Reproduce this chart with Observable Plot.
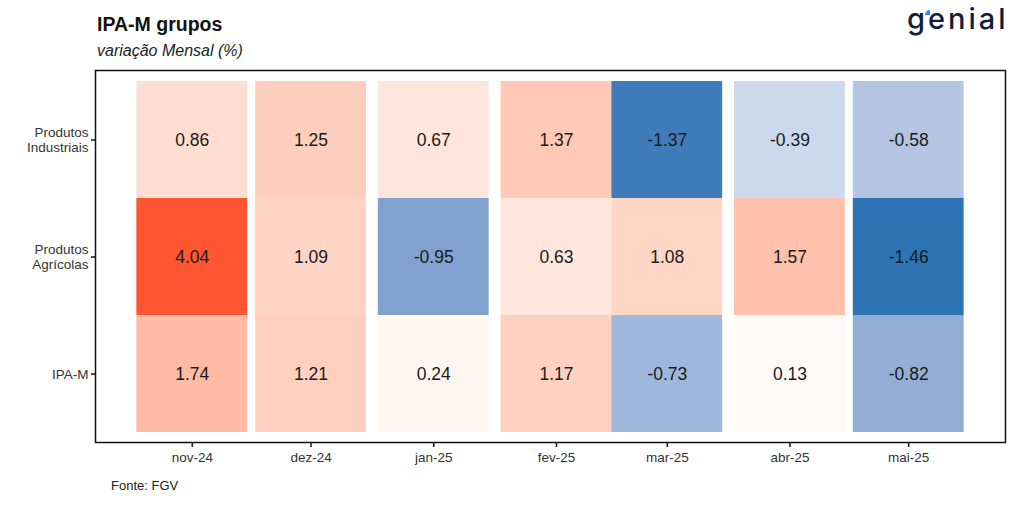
<!DOCTYPE html>
<html>
<head>
<meta charset="utf-8">
<script src="https://cdn.jsdelivr.net/npm/d3@7"></script>
<script src="https://cdn.jsdelivr.net/npm/@observablehq/plot@0.6"></script>
<style>
  html, body { margin: 0; padding: 0; background: #fff; }
  body { width: 1024px; height: 512px; position: relative; overflow: hidden; font-family: "Liberation Sans", Arial, sans-serif; }
  #title { position: absolute; left: 97px; top: 15px; font-size: 19.5px; font-weight: bold; line-height: 1; color: #111; }
  #subtitle { position: absolute; left: 97px; top: 43px; font-size: 16px; font-style: italic; line-height: 1; color: #222; }
  #logo { position: absolute; left: 907px; top: 4px; font-family: Inter, "Noto Sans", sans-serif; font-size: 29px; font-weight: 500; letter-spacing: 3px; line-height: 1; color: #151a3f; }
  #accent { position: absolute; left: 925px; top: 10px; width: 5px; height: 5px; background: #2a8cff; border-top-left-radius: 5px; }
  #chart { position: absolute; left: 0; top: 60px; }
  #caption { position: absolute; left: 111px; top: 479px; font-size: 13px; line-height: 1; color: #222; }
</style>
</head>
<body>
<div id="title">IPA-M grupos</div>
<div id="subtitle">variação Mensal (%)</div>
<div id="logo">genial</div>
<div id="accent"></div>
<div id="chart"></div>
<div id="caption">Fonte: FGV</div>
<script>
const dates = ["2024-11-01", "2024-12-01", "2025-01-01", "2025-02-01", "2025-03-01", "2025-04-01", "2025-05-01"];
const monthLabels = ["nov-24", "dez-24", "jan-25", "fev-25", "mar-25", "abr-25", "mai-25"];
const groups = ["Produtos Industriais", "Produtos Agrícolas", "IPA-M"];
const industriais = [0.86, 1.25, 0.67, 1.37, -1.37, -0.39, -0.58];
const agricolas = [4.04, 1.09, -0.95, 0.63, 1.08, 1.57, -1.46];
const ipam = [1.74, 1.21, 0.24, 1.17, -0.73, 0.13, -0.82];

const DAY = 86400000;
const halfWidth = 14 * DAY;
const series = [industriais, agricolas, ipam];
const data = [];
groups.forEach((g, gi) => {
  dates.forEach((ds, i) => {
    const d = new Date(ds + "T00:00:00Z");
    data.push({ group: g, date: d, x1: new Date(+d - halfWidth), x2: new Date(+d + halfWidth), value: series[gi][i] });
  });
});

const tickDates = dates.map(ds => new Date(ds + "T00:00:00Z"));
const lo = +tickDates[0] - halfWidth;
const hi = +tickDates[tickDates.length - 1] + halfWidth;
const pad = (hi - lo) * 0.05;
const labelOf = d => monthLabels[tickDates.findIndex(t => +t === +d)];

const chart = Plot.plot({
  width: 1024,
  height: 415,
  marginLeft: 95,
  marginRight: 19,
  marginTop: 10,
  marginBottom: 33,
  style: { fontFamily: "'Liberation Sans', Arial, sans-serif", fontSize: "13.5px", color: "#333", background: "#fff" },
  x: { type: "utc", domain: [new Date(lo - pad), new Date(hi + pad)], ticks: tickDates, tickFormat: labelOf, tickSize: 5, tickPadding: 4, label: null },
  y: { domain: groups, paddingInner: 0, paddingOuter: 0.08, tickSize: 4, tickPadding: 3, label: null, tickFormat: d => d.replace(" ", "\n") },
  color: { type: "linear", domain: [-1.46, 0, 4.04], range: ["#2E74B5", "#FFFFFF", "#FF5533"], interpolate: "lab" },
  marks: [
    Plot.barX(data, { x1: "x1", x2: "x2", y: "group", fill: "value", inset: 0 }),
    Plot.text(data, { x: "date", y: "group", text: d => d.value.toFixed(2), fontSize: 17.5, fill: "#1a1a1a" }),
    Plot.frame({ stroke: "#111", strokeWidth: 1.5 }),
    Plot.axisX({ ticks: tickDates, tickFormat: labelOf, tickSize: 5, tickPadding: 5, stroke: "#222", strokeWidth: 1.6, fill: "#333", fontSize: 13.5, label: null }),
    Plot.axisY({ tickSize: 4, tickPadding: 3, stroke: "#222", strokeWidth: 1.6, fill: "#333", fontSize: 13.5, label: null, tickFormat: d => d.replace(" ", "\n"), lineHeight: 1.1 })
  ]
});
document.getElementById("chart").appendChild(chart);
</script>
</body>
</html>
